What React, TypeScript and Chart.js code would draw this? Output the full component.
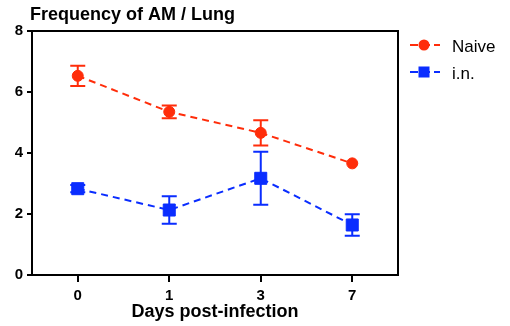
import React, { useEffect, useRef } from "react";
import { Chart, registerables } from "chart.js";

Chart.register(...registerables);

const chartTitle = "Frequency of AM / Lung";
const xTitle = "Days post-infection";
const days = ["0", "1", "3", "7"];
const yTicks = [0, 2, 4, 6, 8];

const naiveLabel = "Naive";
const naiveMean = [6.53, 5.35, 4.66, 3.66];
const naiveErr = [0.33, 0.21, 0.41, 0];

const inLabel = "i.n.";
const inMean = [2.83, 2.13, 3.17, 1.64];
const inErr = [0.12, 0.45, 0.87, 0.35];

const RED = "rgb(255,45,10)";
const BLUE = "rgb(10,45,255)";
const FONT = "'Liberation Sans', Arial, Helvetica, sans-serif";

const errorBarPlugin = {
  id: "errorBars",
  beforeDatasetsDraw(chart: any) {
    const ctx = chart.ctx;
    const yScale = chart.scales.y;
    const errs = [naiveErr, inErr];
    chart.data.datasets.forEach((ds: any, di: number) => {
      const meta = chart.getDatasetMeta(di);
      ctx.save();
      ctx.strokeStyle = ds.borderColor;
      ctx.lineWidth = 2;
      ctx.setLineDash([]);
      meta.data.forEach((pt: any, i: number) => {
        const v = ds.data[i];
        const e = errs[di][i];
        if (!e) return;
        const yt = yScale.getPixelForValue(v + e);
        const yb = yScale.getPixelForValue(v - e);
        const x = pt.x;
        ctx.beginPath();
        ctx.moveTo(x, yt);
        ctx.lineTo(x, yb);
        ctx.moveTo(x - 7.5, yt);
        ctx.lineTo(x + 7.5, yt);
        ctx.moveTo(x - 7.5, yb);
        ctx.lineTo(x + 7.5, yb);
        ctx.stroke();
      });
      ctx.restore();
    });
  },
};

const framePlugin = {
  id: "frameAndText",
  afterDraw(chart: any) {
    const ctx = chart.ctx;
    const { left, top, right, bottom } = chart.chartArea;
    ctx.save();
    ctx.strokeStyle = "#000";
    ctx.lineWidth = 2;
    ctx.beginPath();
    ctx.moveTo(left, top);
    ctx.lineTo(right, top);
    ctx.lineTo(right, bottom);
    ctx.stroke();

    ctx.fillStyle = "#000";
    ctx.font = `bold 18px ${FONT}`;
    ctx.textBaseline = "alphabetic";
    ctx.textAlign = "left";
    ctx.fillText(chartTitle, left - 2, 20);

    const items = chart.data.datasets.map((ds: any, i: number) => ({
      label: ds.label,
      color: ds.borderColor,
      style: ds.pointStyle,
      y: top + 14 + i * 27,
    }));
    const lx0 = right + 12;
    const lx1 = right + 42;
    items.forEach((it: any) => {
      ctx.strokeStyle = it.color;
      ctx.lineWidth = 2;
      ctx.setLineDash([8, 4]);
      ctx.beginPath();
      ctx.moveTo(lx0, it.y);
      ctx.lineTo(lx1, it.y);
      ctx.stroke();
      ctx.setLineDash([]);
      ctx.fillStyle = it.color;
      const cx = lx0 + 14;
      if (it.style === "circle") {
        ctx.beginPath();
        ctx.arc(cx, it.y, 5.5, 0, Math.PI * 2);
        ctx.fill();
      } else {
        ctx.fillRect(cx - 5.5, it.y - 5.5, 11, 11);
      }
      ctx.fillStyle = "#000";
      ctx.font = `17px ${FONT}`;
      ctx.textBaseline = "alphabetic";
      ctx.fillText(it.label, right + 54, it.y + 6.5);
    });
    ctx.restore();
  },
};

export default function App() {
  const ref = useRef<HTMLCanvasElement | null>(null);
  useEffect(() => {
    if (!ref.current) return;
    const chart = new Chart(ref.current, {
      type: "line",
      data: {
        labels: days,
        datasets: [
          {
            label: naiveLabel,
            data: naiveMean,
            borderColor: RED,
            backgroundColor: RED,
            borderWidth: 2,
            borderDash: [7, 5],
            pointStyle: "circle",
            pointRadius: 5.5,
            pointBorderWidth: 1,
            pointHoverRadius: 5.5,
            fill: false,
            tension: 0,
          },
          {
            label: inLabel,
            data: inMean,
            borderColor: BLUE,
            backgroundColor: BLUE,
            borderWidth: 2,
            borderDash: [7, 5],
            pointStyle: "rect",
            pointRadius: 8.5,
            pointBorderWidth: 1,
            pointHoverRadius: 8.5,
            fill: false,
            tension: 0,
          },
        ],
      },
      options: {
        responsive: false,
        animation: false,
        layout: { padding: { left: 0, right: 112, top: 31, bottom: 0 } },
        plugins: {
          legend: { display: false },
          title: { display: false },
          tooltip: { enabled: false },
        },
        scales: {
          x: {
            type: "category",
            offset: true,
            grid: {
              drawOnChartArea: false,
              drawTicks: true,
              tickLength: 7,
              color: "#000",
              lineWidth: 2,
            },
            border: { display: true, color: "#000", width: 2 },
            ticks: {
              color: "#000",
              padding: 5,
              font: { family: FONT, size: 15, weight: "bold" },
            },
            title: {
              display: true,
              text: xTitle,
              color: "#000",
              font: { family: FONT, size: 18, weight: "bold" },
              padding: { top: 0, bottom: 3 },
            },
            afterFit(scale: any) {
              scale.height = 51;
            },
          },
          y: {
            min: 0,
            max: 8,
            afterBuildTicks(scale: any) {
              scale.ticks = yTicks.map((v) => ({ value: v }));
            },
            grid: {
              drawOnChartArea: false,
              drawTicks: true,
              tickLength: 5,
              color: "#000",
              lineWidth: 2,
            },
            border: { display: true, color: "#000", width: 2 },
            ticks: {
              color: "#000",
              padding: 4,
              font: { family: FONT, size: 15, weight: "bold" },
            },
            afterFit(scale: any) {
              scale.width = 32;
            },
          },
        },
      },
      plugins: [errorBarPlugin, framePlugin],
    });
    return () => chart.destroy();
  }, []);
  return (
    <div style={{ position: "fixed", left: 0, top: 0, width: 510, height: 326, background: "#fff" }}>
      <canvas ref={ref} width={510} height={326} style={{ width: 510, height: 326 }} />
    </div>
  );
}
